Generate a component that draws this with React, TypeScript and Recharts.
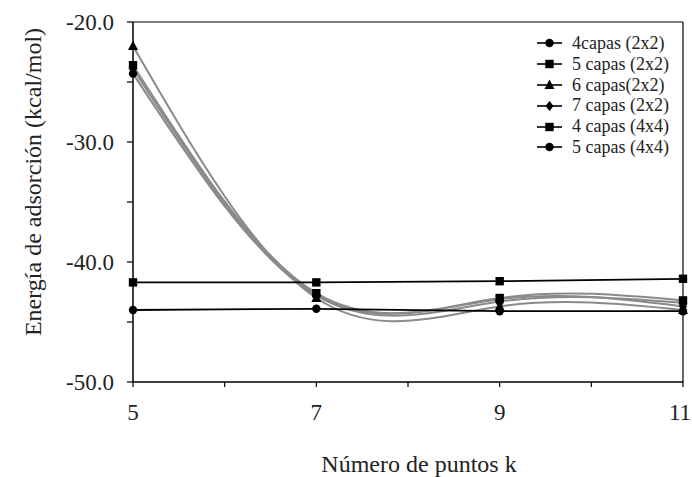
import React from 'react';
import { LineChart, Line, XAxis, YAxis, ReferenceLine, Label } from 'recharts';

const kPoints = [5, 7, 9, 11];
const capas4_2x2 = [-24.3, -42.8, -43.3, -43.4];
const capas5_2x2 = [-23.6, -42.6, -43.0, -43.2];
const capas6_2x2 = [-22.0, -43.0, -43.7, -44.0];
const capas7_2x2 = [-23.9, -42.7, -43.1, -43.7];
const capas4_4x4 = [-41.7, -41.7, -41.6, -41.4];
const capas5_4x4 = [-44.0, -43.9, -44.1, -44.1];

const seriesNames = ['4capas (2x2)', '5 capas (2x2)', '6 capas(2x2)', '7 capas (2x2)', '4 capas (4x4)', '5 capas (4x4)'];
const seriesShapes = ['circle', 'square', 'triangle', 'diamond', 'square', 'circle'];
const seriesValues = [capas4_2x2, capas5_2x2, capas6_2x2, capas7_2x2, capas4_4x4, capas5_4x4];
const xTicks = [5, 6, 7, 8, 9, 10, 11];
const yTicks = [-50, -45, -40, -35, -30, -25, -20];
const xTitle = 'Número de puntos k';
const yTitle = 'Energía de adsorción (kcal/mol)';

const FONT = "'Liberation Serif', 'DejaVu Serif', serif";
const GRAY = '#8a8a8a';
const TEXT = '#222';

const data = kPoints.map((k, i) => {
  const row: any = { k };
  seriesValues.forEach((vals, j) => { row['s' + j] = vals[i]; });
  return row;
});

function MarkerShape({ cx, cy, shape }: { cx: number; cy: number; shape: string }) {
  if (cx == null || cy == null) return null;
  if (shape === 'circle') return <circle cx={cx} cy={cy} r={4.2} fill="#000" />;
  if (shape === 'square') return <rect x={cx - 4.2} y={cy - 4.2} width={8.4} height={8.4} fill="#000" />;
  if (shape === 'triangle') return <polygon points={`${cx},${cy - 5.5} ${cx + 5},${cy + 4} ${cx - 5},${cy + 4}`} fill="#000" />;
  return <polygon points={`${cx},${cy - 5} ${cx + 4},${cy} ${cx},${cy + 5} ${cx - 4},${cy}`} fill="#000" />;
}

function XTick(props: any) {
  const { x, y, payload } = props;
  const v = payload.value;
  if (v % 2 !== 1) return null;
  const last = v === xTicks[xTicks.length - 1];
  return (
    <text x={x} y={y} dy={27} dx={last ? -3 : 0} textAnchor="middle" fill={TEXT} fontSize={23} fontFamily={FONT} style={{ fontFamily: FONT }}>
      {String(v)}
    </text>
  );
}

function YTick(props: any) {
  const { x, y, payload } = props;
  const v = payload.value;
  if (v % 10 !== 0) return null;
  return (
    <text x={x} y={y} dy={8} textAnchor="end" fill={TEXT} fontSize={23} fontFamily={FONT} style={{ fontFamily: FONT }}>
      {v.toFixed(1)}
    </text>
  );
}

function LegendBox() {
  return (
    <div style={{ position: 'absolute', left: 535, top: 33, fontFamily: FONT, fontSize: 18, color: TEXT }}>
      {seriesNames.map((name, i) => (
        <div key={name} style={{ display: 'flex', alignItems: 'center', height: 20.8, lineHeight: '20.8px', whiteSpace: 'nowrap' }}>
          <svg width={37} height={20} style={{ display: 'block' }}>
            <line x1={2} y1={10} x2={27} y2={10} stroke="#000" strokeWidth={1.6} />
            <MarkerShape cx={14.5} cy={10} shape={seriesShapes[i]} />
          </svg>
          <span style={{ fontFamily: FONT }}>{name}</span>
        </div>
      ))}
    </div>
  );
}

export default function App() {
  return (
    <div style={{ position: 'absolute', left: 0, top: 0, width: 692, height: 477, background: '#fff' }}>
      <LineChart width={692} height={477} data={data} margin={{ top: 22, right: 9, bottom: 0, left: 0 }}>
        <XAxis
          dataKey="k"
          type="number"
          domain={[5, 11]}
          ticks={xTicks}
          interval={0}
          height={95}
          tickSize={5}
          tickMargin={6}
          axisLine={{ stroke: '#000', strokeWidth: 1.5 }}
          tickLine={{ stroke: '#000', strokeWidth: 1.2 }}
          tick={<XTick />}
        >
          <Label
            value={xTitle}
            position="insideBottom"
            offset={5}
            dx={11}
            style={{ fill: TEXT, fontSize: 24, fontFamily: FONT }}
          />
        </XAxis>
        <YAxis
          type="number"
          domain={[-50, -20]}
          ticks={yTicks}
          interval={0}
          width={133}
          tickSize={6}
          tickMargin={13}
          axisLine={{ stroke: '#000', strokeWidth: 1.5 }}
          tickLine={{ stroke: '#000', strokeWidth: 1.2 }}
          tick={<YTick />}
        >
          <Label
            content={() => (
              <text
                x={33}
                y={182}
                transform="rotate(-90 33 182)"
                textAnchor="middle"
                dominantBaseline="central"
                style={{ fill: TEXT, fontSize: 24, fontFamily: FONT }}
              >
                {yTitle}
              </text>
            )}
          />
        </YAxis>
        <ReferenceLine y={-20} stroke="#000" strokeWidth={1.2} />
        <ReferenceLine x={11} stroke="#000" strokeWidth={1.2} />
        {seriesNames.map((name, i) => (
          <Line
            key={name}
            name={name}
            dataKey={'s' + i}
            type={i < 4 ? 'natural' : 'linear'}
            stroke={i < 4 ? GRAY : '#000'}
            strokeWidth={i < 4 ? 2 : 1.8}
            isAnimationActive={false}
            dot={(p: any) => <MarkerShape key={`d${i}-${p.index}`} cx={p.cx} cy={p.cy} shape={seriesShapes[i]} />}
            activeDot={false}
          />
        ))}
      </LineChart>
      <LegendBox />
    </div>
  );
}
